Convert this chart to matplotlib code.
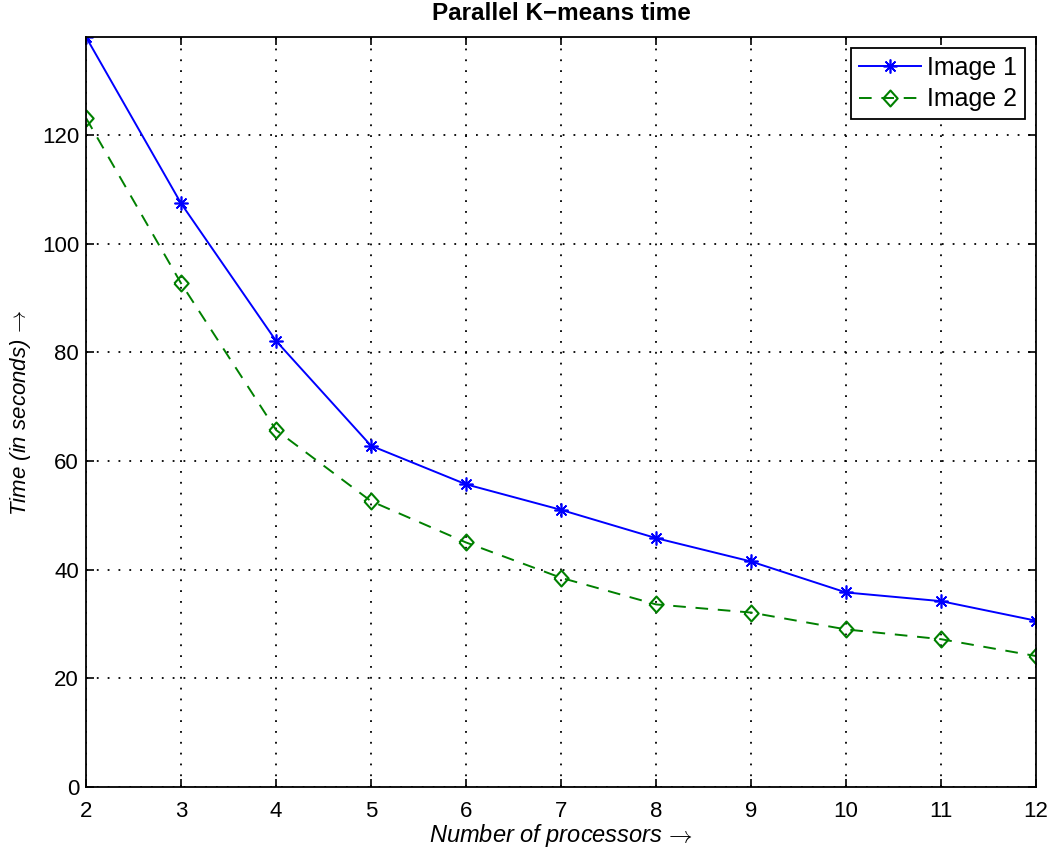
import matplotlib
matplotlib.use("Agg")
import matplotlib.pyplot as plt

plt.rcParams['font.family'] = ['Liberation Sans', 'DejaVu Sans']
plt.rcParams['mathtext.fontset'] = 'cm'

# Data
processors = [2, 3, 4, 5, 6, 7, 8, 9, 10, 11, 12]
image1_time = [138.0, 107.4, 82.1, 62.8, 55.7, 51.0, 45.8, 41.5, 35.8, 34.2, 30.6]
image2_time = [123.1, 92.7, 65.7, 52.6, 45.0, 38.5, 33.6, 32.1, 29.0, 27.2, 24.1]
y_ticks = [0, 20, 40, 60, 80, 100, 120]

fig = plt.figure(figsize=(10.5, 8.49), dpi=100)
ax = fig.add_axes([0.0819, 0.073, 0.9048, 0.8834])

# MATLAB-like markers: 8-arm asterisk and a near-square diamond
asterisk = (8, 2, 0)
diamond = [(-0.9, 0), (0, 1), (0.9, 0), (0, -1), (-0.9, 0)]
ax.plot(processors, image1_time, color='#0000ff', linestyle='-', linewidth=1.4,
        marker=asterisk, markersize=10, markeredgewidth=1.2, label='Image 1')
ax.plot(processors, image2_time, color='#008000', linestyle=(0, (6.5, 5)), linewidth=1.4,
        marker=diamond, markersize=11.5, markerfacecolor='none', markeredgewidth=1.5,
        label='Image 2')

ax.set_xlim(2, 12)
ax.set_ylim(0, max(image1_time))
ax.set_xticks(processors)
ax.set_yticks(y_ticks)
ax.tick_params(direction='in', length=6, width=1.2, labelsize=16, top=True, right=True)
ax.tick_params(axis='x', pad=10)
ax.tick_params(axis='y', pad=5)
ax.grid(True, color='black', linestyle=(0, (1, 5)), linewidth=1.3)
for s in ax.spines.values():
    s.set_linewidth(1.3)

ax.set_title('Parallel K\u2212means time', fontsize=17.5, fontweight='bold', pad=12)
ax.set_xlabel('Number of processors$\\,\\rightarrow$', fontsize=17, style='italic', labelpad=0)
ax.set_ylabel('Time (in seconds)$\\,\\rightarrow$', fontsize=16, style='italic', labelpad=6)

leg = ax.legend(loc='upper right', fontsize=18, fancybox=False, edgecolor='black',
                framealpha=1, borderaxespad=0.45, handlelength=2.5, labelspacing=0.3,
                borderpad=0.3, handletextpad=0.25, numpoints=1)
leg.get_frame().set_linewidth(1.3)

fig.savefig('out.png', dpi=100)
